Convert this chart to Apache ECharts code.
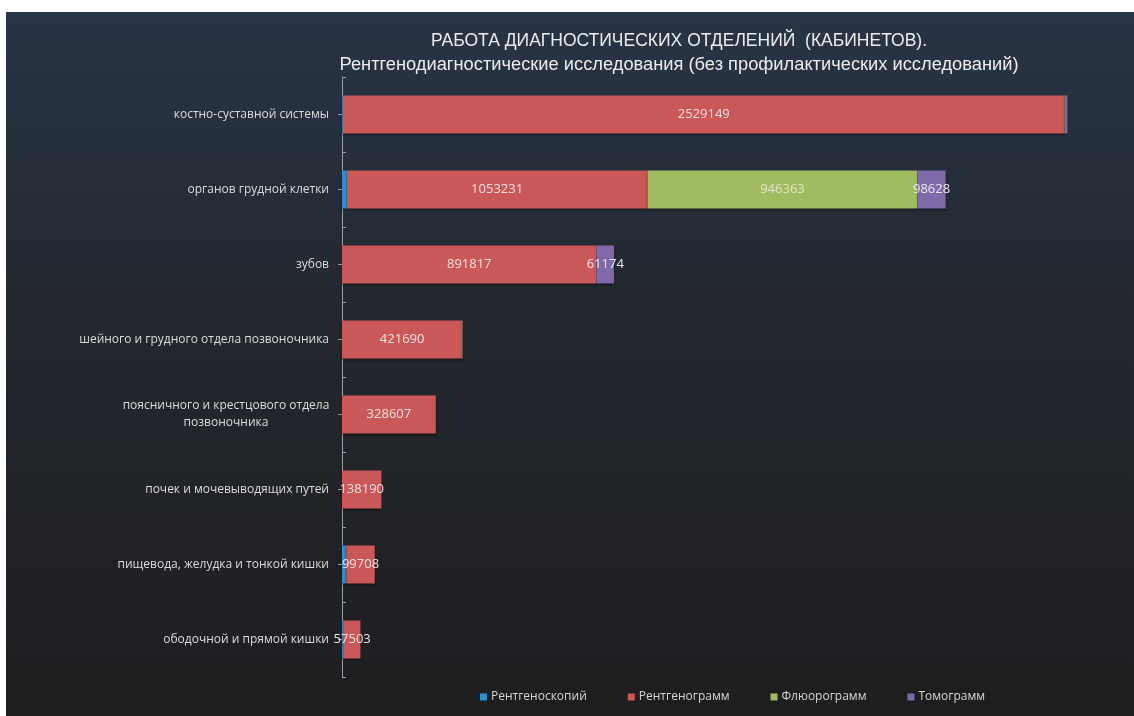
<html>
<head>
    <meta charset="UTF-8">
    <title>Рентгенодиагностические исследования</title>
    <style>
        body { margin: 0; background: #fff; }
        #main { position: absolute; left: 6px; top: 12px; width: 1128px; height: 704px; }
    </style>
    <script src="https://cdn.jsdelivr.net/npm/echarts@6/dist/echarts.min.js"></script>
</head>
<body>
<div id="main"></div>
<script>
    // категории (сверху вниз)
    var categories = [
        'костно-суставной системы',
        'органов грудной клетки',
        'зубов',
        'шейного и грудного отдела позвоночника',
        'поясничного и крестцового отдела\nпозвоночника',
        'почек и мочевыводящих путей',
        'пищевода, желудка и тонкой кишки',
        'ободочной и прямой кишки'
    ];
    var seriesNames = ['Рентгеноскопий', 'Рентгенограмм', 'Флюорограмм', 'Томограмм'];
    var rentgenoskopiy = [3000, 17000, 0, 0, 0, 0, 15000, 7000];
    var rentgenogramm = [2529149, 1053231, 891817, 421690, 328607, 138190, 99708, 57503];
    var fluorogramm = [4000, 946363, 0, 1000, 0, 0, 0, 0];
    var tomogramm = [6000, 98628, 61174, 1000, 0, 0, 0, 0];

    var colors = ['#2d8fcf', '#cb5858', '#a1bc60', '#7e69a9'];
    var labelColors = ['#ffffff', '#f3e0e0', '#dde8c8', '#ece6f4'];
    var seriesData = [rentgenoskopiy, rentgenogramm, fluorogramm, tomogramm];

    var myChart = echarts.init(document.getElementById('main'));

    var series = seriesData.map(function (arr, i) {
        return {
            name: seriesNames[i],
            type: 'bar',
            stack: 'total',
            barWidth: 38,
            data: arr,
            itemStyle: {
                color: colors[i],
                shadowColor: 'rgba(0,0,0,0.45)',
                shadowBlur: 2,
                shadowOffsetY: 1
            },
            label: {
                show: true,
                position: 'inside',
                color: labelColors[i],
                fontFamily: 'Open Sans',
                fontSize: 13,
                formatter: function (p) {
                    // подписи только у крупных сегментов
                    return p.value >= 20000 ? String(p.value) : '';
                }
            }
        };
    });

    var option = {
        backgroundColor: {
            type: 'linear', x: 0, y: 0, x2: 0, y2: 1,
            colorStops: [
                {offset: 0, color: '#283546'},
                {offset: 0.45, color: '#23272e'},
                {offset: 1, color: '#1e1e20'}
            ]
        },
        animation: false,
        title: {
            text: '{a|РАБОТА ДИАГНОСТИЧЕСКИХ ОТДЕЛЕНИЙ  (КАБИНЕТОВ).}\n{b|Рентгенодиагностические исследования (без профилактических исследований)}',
            left: 668,
            top: 12,
            textAlign: 'center',
            textStyle: {
                fontWeight: 'normal',
                rich: {
                    a: {fontFamily: 'Liberation Sans', fontSize: 17.5, fontWeight: 'normal', color: '#ececec', lineHeight: 24, align: 'center'},
                    b: {fontFamily: 'Liberation Sans', fontSize: 18.3, fontWeight: 'normal', color: '#ececec', lineHeight: 24, align: 'center'}
                }
            }
        },
        legend: {
            left: 469,
            top: 674,
            itemWidth: 7,
            itemHeight: 7,
            itemGap: 41,
            icon: 'rect',
            textStyle: {color: '#d4d4d4', fontFamily: 'Open Sans', fontSize: 12, padding: [0, 0, 0, -1]},
            data: seriesNames
        },
        grid: {left: 336, top: 65, width: 742, height: 600},
        xAxis: {
            type: 'value',
            min: 0,
            max: 2600000,
            show: false
        },
        yAxis: [
            {
                type: 'category',
                inverse: true,
                data: categories,
                axisLine: {lineStyle: {color: '#9a9ea6', width: 1}},
                axisTick: {show: true, inside: true, length: 4, lineStyle: {color: '#9a9ea6'}},
                axisLabel: {
                    color: '#dcdcdc',
                    fontFamily: 'Open Sans',
                    fontSize: 12,
                    margin: 13,
                    formatter: function (v) {
                        if (v.indexOf('\n') >= 0) {
                            return v.split('\n').map(function (s) { return '{c|' + s + '}'; }).join('\n');
                        }
                        return v;
                    },
                    rich: {
                        c: {width: 206, align: 'center', color: '#dcdcdc', fontFamily: 'Open Sans', fontSize: 12, lineHeight: 17}
                    }
                }
            },
            {
                type: 'category',
                inverse: true,
                position: 'left',
                data: categories,
                axisLine: {show: false},
                axisLabel: {show: false},
                axisTick: {show: true, alignWithLabel: true, length: 4, lineStyle: {color: '#9a9ea6'}}
            }
        ],
        series: series
    };
    myChart.setOption(option);
</script>
</body>
</html>
